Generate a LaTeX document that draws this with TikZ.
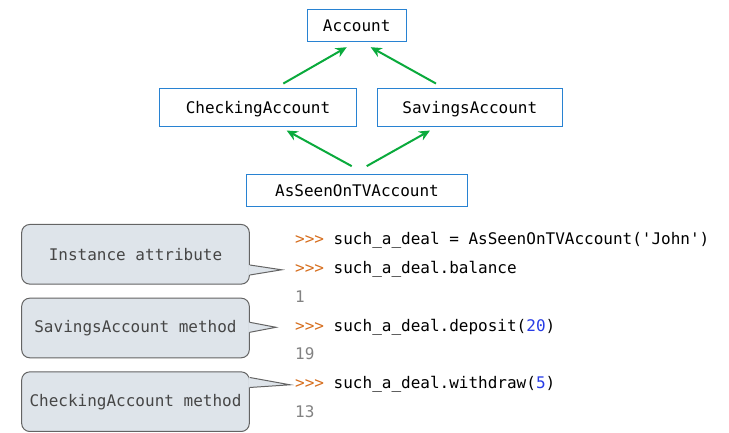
\documentclass[tikz,border=0pt]{standalone}
\usepackage{fontspec}
\setmonofont{DejaVu Sans Mono}
\usetikzlibrary{arrows.meta}
\definecolor{boxblue}{RGB}{40,130,210}
\definecolor{arrowgreen}{RGB}{10,170,60}
\definecolor{notefill}{RGB}{222,228,234}
\definecolor{notedraw}{RGB}{100,100,100}
\definecolor{notetext}{RGB}{70,70,70}
\definecolor{promptorange}{RGB}{214,110,30}
\definecolor{outgray}{RGB}{130,130,130}
\definecolor{numblue}{RGB}{40,60,230}
\tikzstyle{classbox} = [draw=boxblue, line width=1pt, inner sep=0pt, text height=12pt, text depth=0pt, minimum height=37.7pt]
\tikzstyle{isa} = [draw=arrowgreen, line width=2pt, -{Stealth[length=11pt,width=10pt]}]
\tikzstyle{notebox} = [draw=notedraw, line width=1pt, fill=notefill, rounded corners=8pt, inner sep=2pt, minimum width=227.6pt, minimum height=59.6pt, text=notetext]
\tikzstyle{codeline} = [anchor=base west, inner sep=0pt, text height=11pt, text depth=3pt]
\newcommand{\prompt}{\textcolor{promptorange}{>>>}}
\newcommand{\pointer}[4]{
\fill[notefill] ([xshift=-1.5pt,yshift=#2+5pt]#1.east) -- ([xshift=#4]#3.west) -- ([xshift=-1.5pt,yshift=#2-5pt]#1.east) -- cycle;
\draw[notedraw, line width=1pt] ([yshift=#2+5pt]#1.east) -- ([xshift=#4]#3.west) -- ([yshift=#2-5pt]#1.east);
}

\begin{document}
\begin{tikzpicture}[x=1pt,y=1pt]
\tikzstyle{every node}=[font=\ttfamily\fontsize{16}{19}\selectfont]
\useasboundingbox (0,0) rectangle (729,433);
\node[classbox, minimum width=98.7pt, minimum height=32.4pt] (acct) at (356.7,407.5) {Account};
\node[classbox, minimum width=197.4pt] (chk) at (258,325.8) {CheckingAccount};
\node[classbox, minimum width=185pt] (sav) at (469.8,325.8) {SavingsAccount};
\node[classbox, minimum width=220.6pt, minimum height=31.7pt] (tv) at (357,242.2) {AsSeenOnTVAccount};

\draw[isa] ([xshift=25.3pt,yshift=4.3pt]chk.north) -- ([xshift=-10pt,yshift=-5pt]acct.south);
\draw[isa] ([xshift=-33.8pt,yshift=4.3pt]sav.north) -- ([xshift=14pt,yshift=-5pt]acct.south);
\draw[isa] ([xshift=-5.3pt,yshift=8.3pt]tv.north) -- ([xshift=28.7pt,yshift=-4pt]chk.south);
\draw[isa] ([xshift=9.7pt,yshift=8.3pt]tv.north) -- ([xshift=-39.8pt,yshift=-4pt]sav.south);

% session
\node[codeline] (l1) at (295,188) {\prompt{} such\_a\_deal = AsSeenOnTVAccount('John')};
\node[codeline] (l2) at (295,159.2) {\prompt{} such\_a\_deal.balance};
\node[codeline, text=outgray] (o1) at (295,130.5) {1};
\node[codeline] (l4) at (295,101.7) {\prompt{} such\_a\_deal.deposit(\textcolor{numblue}{20})};
\node[codeline, text=outgray] (o2) at (295,73) {19};
\node[codeline] (l6) at (295,44.2) {\prompt{} such\_a\_deal.withdraw(\textcolor{numblue}{5})};
\node[codeline, text=outgray] (o3) at (295,15.5) {13};

% callouts
\node[notebox] (ia) at (135.5,178.7) {Instance attribute};
\node[notebox] (sm) at (135.5,105) {SavingsAccount method};
\node[notebox] (cm) at (135.5,31.3) {CheckingAccount method};
\pointer{ia}{-15.7pt}{l2}{-13.3pt}
\pointer{sm}{0.7pt}{l4}{-19pt}
\pointer{cm}{19.2pt}{l6}{-5pt}
\end{tikzpicture}
\end{document}
